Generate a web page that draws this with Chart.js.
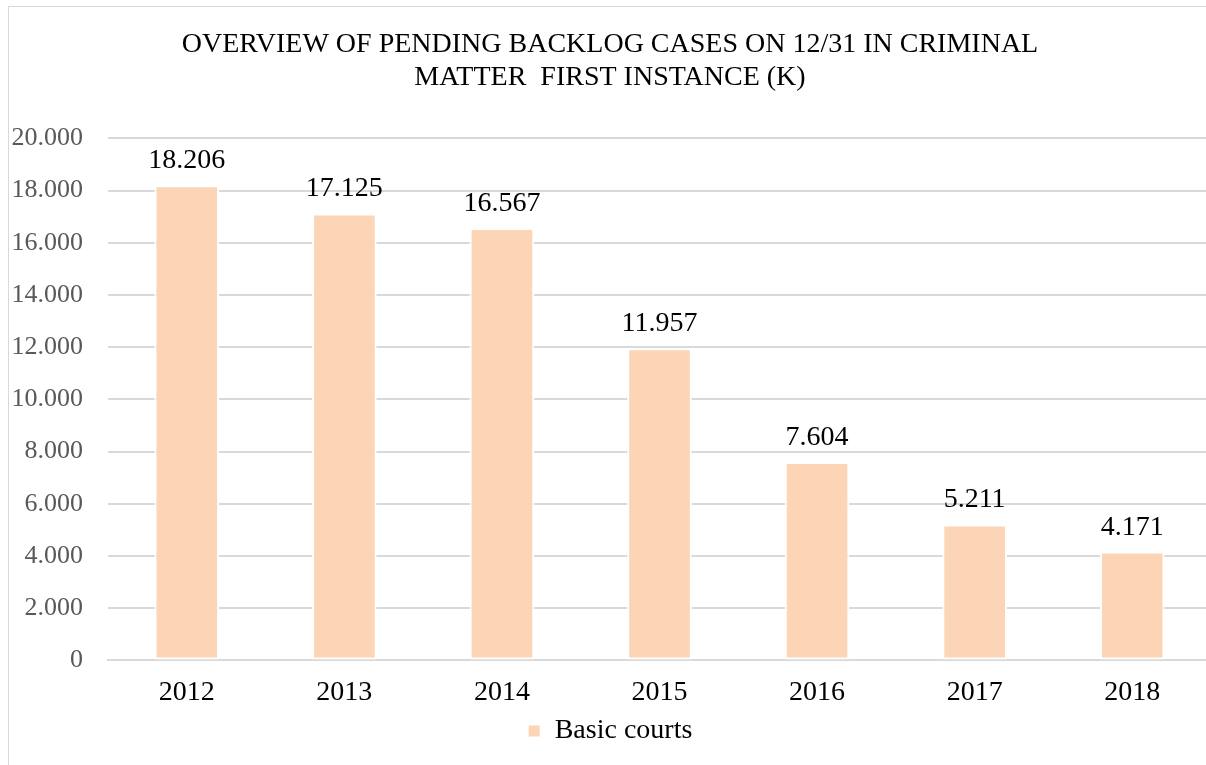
<!DOCTYPE html>
<html>
<head>
<meta charset="utf-8">
<script src="https://cdn.jsdelivr.net/npm/chart.js@4/dist/chart.umd.min.js"></script>
<style>
  html, body { margin: 0; padding: 0; background: #fff; overflow: hidden; width: 1206px; height: 765px; }
  #wrap { position: absolute; left: 8px; top: 6px; width: 1230px; height: 800px;
          border-left: 1px solid #d9d9d9; border-top: 1px solid #d9d9d9; }
  #box { position: absolute; left: 0; top: 0; width: 1202px; height: 790px; }
</style>
</head>
<body>
<div id="wrap"><div id="box"><canvas id="c"></canvas></div></div>
<script>
const categories = ['2012', '2013', '2014', '2015', '2016', '2017', '2018'];
const basicCourts = [18206, 17125, 16567, 11957, 7604, 5211, 4171];
const seriesName = 'Basic courts';
const titleLines = ['OVERVIEW OF PENDING BACKLOG CASES ON 12/31 IN CRIMINAL', 'MATTER  FIRST INSTANCE (K)'];
const yMin = 0, yMax = 20000, yStep = 2000;

const fmt = v => v.toLocaleString('de-DE');
const FONT = '"Liberation Serif", "Times New Roman", serif';

const valueLabels = {
  id: 'valueLabels',
  afterDatasetsDraw(chart) {
    const ctx = chart.ctx;
    const meta = chart.getDatasetMeta(0);
    ctx.save();
    ctx.font = '28px ' + FONT;
    ctx.fillStyle = '#000';
    ctx.textAlign = 'center';
    ctx.textBaseline = 'alphabetic';
    meta.data.forEach((bar, i) => {
      ctx.fillText(fmt(chart.data.datasets[0].data[i]), bar.x, bar.y - 17);
    });
    ctx.restore();
  }
};

new Chart(document.getElementById('c'), {
  type: 'bar',
  data: {
    labels: categories,
    datasets: [{
      label: seriesName,
      data: basicCourts,
      backgroundColor: '#FBD5B5',
      borderColor: '#ffffff',
      borderWidth: 2,
      borderSkipped: false,
      categoryPercentage: 1,
      barPercentage: 0.41
    }]
  },
  options: {
    responsive: true,
    maintainAspectRatio: false,
    animation: false,
    layout: { padding: { left: 0, right: 0, top: 0, bottom: 42 } },
    plugins: {
      title: {
        display: true,
        text: titleLines,
        color: '#000',
        font: { family: FONT, size: 28, weight: 'normal', lineHeight: 1.15 },
        padding: { top: 22, bottom: 45 }
      },
      legend: {
        display: true,
        position: 'bottom',
        labels: {
          color: '#000',
          boxWidth: 13,
          boxHeight: 13,
          font: { family: FONT, size: 28 },
          padding: 0
        }
      },
      tooltip: { enabled: false }
    },
    scales: {
      x: {
        grid: { display: false, drawTicks: false },
        border: { display: true, color: '#d9d9d9', width: 2 },
        afterFit(scale) { scale.height = scale.height - 7; },
        ticks: { color: '#000', font: { family: FONT, size: 28 }, padding: 15 }
      },
      y: {
        min: yMin, max: yMax,
        grid: { color: '#d9d9d9', lineWidth: 2, drawTicks: false },
        border: { display: false },
        afterFit(scale) { scale.width = 99; },
        ticks: {
          stepSize: yStep,
          color: '#595959',
          font: { family: FONT, size: 26 },
          padding: 25,
          callback: v => fmt(v)
        }
      }
    }
  },
  plugins: [valueLabels]
});
</script>
</body>
</html>
